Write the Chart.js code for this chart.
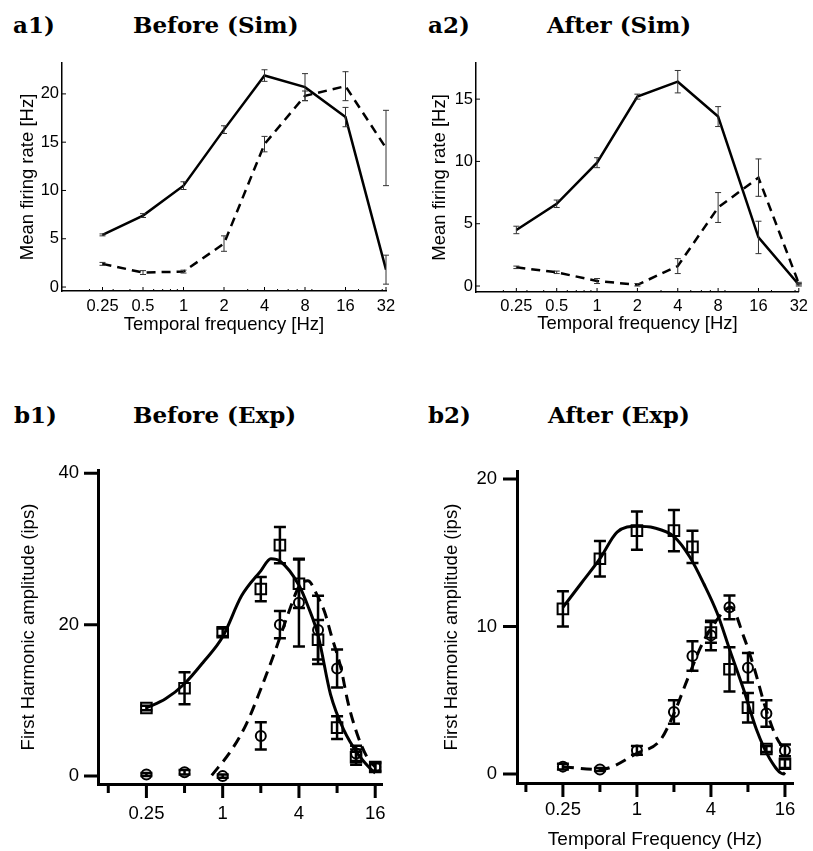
<!DOCTYPE html>
<html>
<head>
<meta charset="utf-8">
<script src="https://cdn.jsdelivr.net/npm/chart.js@4.4.1/dist/chart.umd.min.js"></script>
<style>
  body { margin: 0; background: #fff; width: 813px; height: 851px; position: relative; overflow: hidden; }
  canvas { position: absolute; }
  .head { position: absolute; font-family: "DejaVu Serif", serif; font-weight: bold; font-size: 23px; line-height: 1; color: #000; white-space: nowrap; }
</style>
</head>
<body>
<div class="head" style="left:13px; top:13px">a1)</div>
<div class="head" style="left:133px; top:13px">Before (Sim)</div>
<div class="head" style="left:428px; top:13px">a2)</div>
<div class="head" style="left:547px; top:13px">After (Sim)</div>
<div class="head" style="left:14px; top:403px">b1)</div>
<div class="head" style="left:133px; top:403px">Before (Exp)</div>
<div class="head" style="left:428px; top:403px">b2)</div>
<div class="head" style="left:548px; top:403px">After (Exp)</div>

<canvas id="a1" width="405" height="300" style="left:0; top:40px"></canvas>
<canvas id="a2" width="403" height="300" style="left:410px; top:40px"></canvas>
<canvas id="b1" width="405" height="400" style="left:0; top:440px"></canvas>
<canvas id="b2" width="403" height="411" style="left:410px; top:440px"></canvas>

<script>
// --- a) Simulation: mean firing rate vs temporal frequency ---
const simFreq = [0.25, 0.5, 1, 2, 4, 8, 16, 32];
const simTickLabels = ["0.25", "0.5", "1", "2", "4", "8", "16", "32"];
const simMinorTicks = [0.2, 0.3, 0.4, 0.6, 0.7, 0.8, 0.9, 3, 5, 6, 7, 9, 20, 30];

const a1Solid     = [5.4, 7.4, 10.5, 16.3, 21.9, 20.7, 17.6, 1.8];
const a1SolidErr  = [0.1, 0.2, 0.4, 0.4, 0.6, 1.4, 1.0, 1.5];
const a1Dashed    = [2.4, 1.5, 1.6, 4.5, 14.8, 19.8, 20.8, 14.4];
const a1DashedErr = [0.15, 0.2, 0.15, 0.8, 0.8, 0.5, 1.5, 3.9];
const a1YTicks = [0, 5, 10, 15, 20];

const a2Solid     = [4.5, 6.6, 9.9, 15.2, 16.4, 13.6, 3.9, 0.1];
const a2SolidErr  = [0.3, 0.3, 0.4, 0.2, 0.9, 0.8, 1.3, 0.1];
const a2Dashed    = [1.5, 1.1, 0.4, 0.1, 1.6, 6.3, 8.7, 0.2];
const a2DashedErr = [0.1, 0.1, 0.2, 0.1, 0.6, 1.2, 1.5, 0.1];
const a2YTicks = [0, 5, 10, 15];

// --- b) Experiment: first harmonic amplitude ---
const expTicks = [0.25, 1, 4, 16];
const expTickLabels = ["0.25", "1", "4", "16"];
const expMinorTicks = [0.125, 0.5, 2, 8];
const expFreq = [0.25, 0.5, 1, 2, 2.83, 4, 5.66, 8, 11.3, 16];

const b1Square    = [9.0, 11.6, 19.0, 24.7, 30.5, 25.4, 18.0, 6.4, 2.5, 1.2];
const b1SquareErr = [0.3, 2.1, 0.5, 1.6, 2.4, 3.2, 2.6, 1.5, 1.0, 0.6];
const b1Circle    = [0.2, 0.5, 0.0, 5.3, 20.0, 22.9, 19.3, 14.2, 3.0, 1.2];
const b1CircleErr = [0.2, 0.3, 0.2, 1.8, 1.8, 5.8, 4.5, 2.5, 1.0, 0.5];
const b1FitSolidFreq = [0.25, 0.354, 0.5, 0.707, 1, 1.41, 2, 2.4, 2.83, 4, 4.7, 5.66, 7.1, 9.1, 11.6, 14.6, 16];
const b1FitSolid     = [9.0, 10.2, 12.2, 15.1, 18.4, 23.8, 27.1, 28.7, 28.4, 25.2, 22.5, 18.6, 10.8, 6.0, 3.0, 1.0, 0.4];
const b1FitDashedFreq = [0.82, 1.17, 1.54, 2.01, 2.58, 3.3, 4.0, 4.7, 5.6, 6.4, 7.2, 8.6, 9.7, 11.5, 13.8, 16];
const b1FitDashed     = [0.1, 3.4, 6.9, 11.6, 16.4, 21.5, 25.0, 25.8, 23.8, 21.6, 18.6, 14.2, 9.9, 5.6, 2.5, 1.2];
const b1YTicks = [0, 20, 40];

const b2Square    = [11.2, 14.6, 16.5, 16.5, 15.4, 9.6, 7.1, 4.5, 1.7, 0.7];
const b2SquareErr = [1.2, 1.2, 1.3, 1.4, 1.1, 0.7, 1.5, 1.0, 0.2, 0.3];
const b2Circle    = [0.5, 0.3, 1.6, 4.2, 8.0, 9.4, 11.3, 7.2, 4.1, 1.6];
const b2CircleErr = [0.2, 0.1, 0.3, 0.8, 1.0, 1.0, 0.8, 1.0, 0.9, 0.4];
const b2FitSolidFreq = [0.25, 0.35, 0.5, 0.69, 1, 1.37, 2, 2.7, 3.5, 4.5, 5.7, 7.4, 9.4, 12.1, 15.6, 16];
const b2FitSolid     = [11.3, 12.9, 14.6, 16.4, 16.8, 16.7, 16.1, 14.7, 12.9, 10.9, 8.4, 5.7, 3.0, 1.0, 0.0, 0.1];
const b2FitDashedFreq = [0.25, 0.5, 1, 1.55, 2, 2.57, 3.3, 4.1, 5.8, 7.4, 8.9, 11.3, 13.6, 16];
const b2FitDashed     = [0.5, 0.3, 1.4, 2.3, 4.1, 6.4, 8.6, 10.0, 11.3, 9.3, 7.3, 4.3, 2.5, 1.6];
const b2YTicks = [0, 10, 20];

const SANS = "'Liberation Sans', Arial, sans-serif";

function pts(xs, ys) {
  return xs.map((x, i) => ({ x: x, y: ys[i] }));
}

// Fehlerbalken über die Skalen zeichnen
const errorBars = {
  id: "errorBars",
  afterDatasetsDraw(chart) {
    const { ctx, scales: { x, y } } = chart;
    chart.data.datasets.forEach(ds => {
      if (!ds.errors) return;
      ctx.save();
      ctx.strokeStyle = ds.errColor || "#000";
      ctx.lineWidth = ds.errWidth || 1;
      ctx.beginPath();
      ds.data.forEach((p, j) => {
        const e = ds.errors[j];
        const px = x.getPixelForValue(p.x);
        const t = y.getPixelForValue(p.y + e);
        const b = y.getPixelForValue(p.y - e);
        const c = ds.capWidth;
        ctx.moveTo(px, t); ctx.lineTo(px, b);
        ctx.moveTo(px - c, t); ctx.lineTo(px + c, t);
        ctx.moveTo(px - c, b); ctx.lineTo(px + c, b);
      });
      ctx.stroke();
      ctx.restore();
    });
  }
};

// Tick-Striche (innen oder außen)
const axisTicks = {
  id: "axisTicks",
  afterDraw(chart, args, opts) {
    const { ctx, scales: { x, y } } = chart;
    const dir = opts.inward ? -1 : 1;
    ctx.save();
    ctx.strokeStyle = "#000";
    ctx.lineWidth = opts.width;
    ctx.beginPath();
    x.ticks.forEach(t => {
      const px = x.getPixelForValue(t.value);
      ctx.moveTo(px, y.bottom); ctx.lineTo(px, y.bottom + dir * opts.major);
    });
    opts.minor.forEach(v => {
      const px = x.getPixelForValue(v);
      ctx.moveTo(px, y.bottom); ctx.lineTo(px, y.bottom + dir * opts.minorLen);
    });
    y.ticks.forEach(t => {
      const py = y.getPixelForValue(t.value);
      ctx.moveTo(x.left, py); ctx.lineTo(x.left - dir * opts.yLen, py);
    });
    ctx.stroke();
    ctx.restore();
  }
};

function makeChart(id, cfg) {
  const xt = cfg.xTicks;
  const yt = cfg.yTicks;
  // eslint-disable-next-line no-undef
  return new Chart(document.getElementById(id), {
    type: "scatter",
    data: { datasets: cfg.datasets },
    options: {
      responsive: false,
      animation: false,
      devicePixelRatio: 1,
      layout: { autoPadding: false, padding: { left: 0, top: cfg.padTop, right: cfg.padRight, bottom: 0 } },
      plugins: {
        legend: { display: false },
        tooltip: { enabled: false },
        axisTicks: cfg.tickOpts
      },
      scales: {
        x: {
          type: "logarithmic",
          min: cfg.xMin,
          max: cfg.xMax,
          afterBuildTicks: s => { s.ticks = xt.map(v => ({ value: v })); },
          afterFit: s => { s.height = cfg.xh; },
          ticks: {
            autoSkip: false, maxRotation: 0, padding: cfg.xPad, color: "#000",
            font: { family: SANS, size: cfg.tickSize },
            callback: (v, i) => cfg.xLabels[i]
          },
          grid: { display: false, drawTicks: false },
          border: { display: true, color: "#000", width: cfg.axisWidth },
          title: cfg.xTitle ? {
            display: true, text: cfg.xTitle, color: "#000",
            font: { family: SANS, size: cfg.xTitleSize }, padding: cfg.xTitlePad
          } : { display: false }
        },
        y: {
          type: "linear",
          min: cfg.yMin,
          max: cfg.yMax,
          afterBuildTicks: s => { s.ticks = yt.map(v => ({ value: v })); },
          afterFit: s => { s.width = cfg.yw; },
          ticks: {
            padding: cfg.yPad, color: "#000",
            font: { family: SANS, size: cfg.tickSize },
            callback: v => String(v)
          },
          grid: { display: false, drawTicks: false },
          border: { display: true, color: "#000", width: cfg.axisWidth },
          title: {
            display: true, text: cfg.yTitle, color: "#000",
            font: { family: SANS, size: cfg.yTitleSize }, padding: cfg.yTitlePad
          }
        }
      }
    },
    plugins: [errorBars, axisTicks]
  });
}

function simLine(ys, errs, dashed) {
  return {
    data: pts(simFreq, ys),
    errors: errs,
    errColor: "#333",
    errWidth: 1,
    capWidth: 3,
    showLine: true,
    borderColor: "#000",
    borderWidth: 2.5,
    borderDash: dashed ? [9, 6] : [],
    pointRadius: 0,
    tension: 0
  };
}

function fitLine(xs, ys, dashed) {
  return {
    data: pts(xs, ys),
    showLine: true,
    borderColor: "#000",
    borderWidth: 3,
    borderDash: dashed ? [11, 7] : [],
    cubicInterpolationMode: "monotone",
    pointRadius: 0
  };
}

function markers(ys, errs, style) {
  return {
    data: pts(expFreq, ys),
    errors: errs,
    errColor: "#000",
    errWidth: 2.5,
    capWidth: 6,
    showLine: false,
    pointStyle: style,
    pointRadius: style === "rect" ? 7.5 : 5,
    pointBorderWidth: 2,
    pointBorderColor: "#000",
    pointBackgroundColor: "rgba(0,0,0,0)"
  };
}

const simTickOpts = { inward: true, width: 1, major: 4, minor: simMinorTicks, minorLen: 2, yLen: 4 };
const expTickOpts = { inward: false, width: 3, major: 14, minor: expMinorTicks, minorLen: 9, yLen: 14 };

makeChart("a1", {
  datasets: [simLine(a1Solid, a1SolidErr, false), simLine(a1Dashed, a1DashedErr, true)],
  xTicks: simFreq, xLabels: simTickLabels, xMin: 0.125, xMax: 32,
  yTicks: a1YTicks, yMin: -0.41, yMax: 23.2,
  padTop: 23, padRight: 19, xh: 49, yw: 62,
  xPad: 6, yPad: 3, tickSize: 16.5, axisWidth: 1.5,
  xTitle: "Temporal frequency [Hz]", xTitlePad: 4, xTitleSize: 18.5,
  yTitle: "Mean firing rate [Hz]", yTitlePad: 17, yTitleSize: 18.5,
  tickOpts: simTickOpts
});

makeChart("a2", {
  datasets: [simLine(a2Solid, a2SolidErr, false), simLine(a2Dashed, a2DashedErr, true)],
  xTicks: simFreq, xLabels: simTickLabels, xMin: 0.125, xMax: 32,
  yTicks: a2YTicks, yMin: -0.48, yMax: 17.9,
  padTop: 23, padRight: 14, xh: 48, yw: 66,
  xPad: 5, yPad: 3, tickSize: 16.5, axisWidth: 1.5,
  xTitle: "Temporal frequency [Hz]", xTitlePad: 5, xTitleSize: 18.5,
  yTitle: "Mean firing rate [Hz]", yTitlePad: 19, yTitleSize: 18.5,
  tickOpts: simTickOpts
});

makeChart("b1", {
  datasets: [
    fitLine(b1FitSolidFreq, b1FitSolid, false),
    fitLine(b1FitDashedFreq, b1FitDashed, true),
    markers(b1Square, b1SquareErr, "rect"),
    markers(b1Circle, b1CircleErr, "circle")
  ],
  xTicks: expTicks, xLabels: expTickLabels, xMin: 0.1037, xMax: 18.2,
  yTicks: b1YTicks, yMin: -1.04, yMax: 40.4,
  padTop: 25, padRight: 20, xh: 56, yw: 98,
  xPad: 19, yPad: 19, tickSize: 18.5, axisWidth: 3,
  xTitle: null,
  yTitle: "First Harmonic amplitude (ips)", yTitlePad: 18, yTitleSize: 18.5,
  tickOpts: expTickOpts
});

makeChart("b2", {
  datasets: [
    fitLine(b2FitSolidFreq, b2FitSolid, false),
    fitLine(b2FitDashedFreq, b2FitDashed, true),
    markers(b2Square, b2SquareErr, "rect"),
    markers(b2Circle, b2CircleErr, "circle")
  ],
  xTicks: expTicks, xLabels: expTickLabels, xMin: 0.1058, xMax: 18.6,
  yTicks: b2YTicks, yMin: -0.61, yMax: 20.54,
  padTop: 30, padRight: 20, xh: 68, yw: 107,
  xPad: 16, yPad: 20, tickSize: 18.5, axisWidth: 3,
  xTitle: "Temporal Frequency (Hz)", xTitlePad: 0, xTitleSize: 19,
  yTitle: "First Harmonic amplitude (ips)", yTitlePad: 31, yTitleSize: 18.5,
  tickOpts: expTickOpts
});
</script>
</body>
</html>
